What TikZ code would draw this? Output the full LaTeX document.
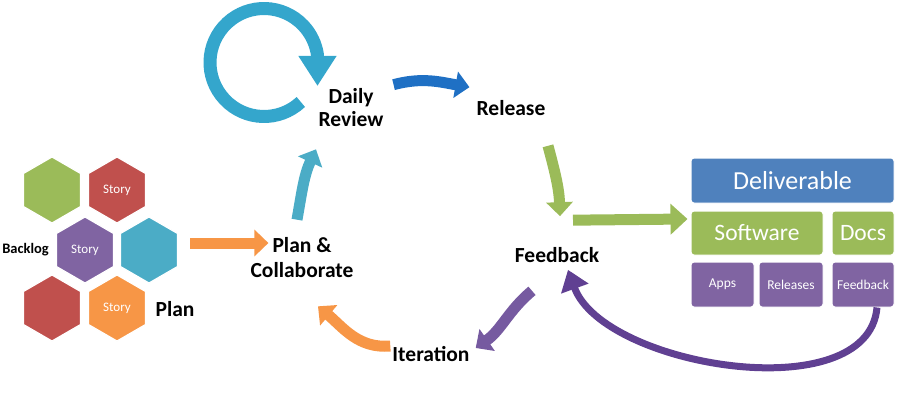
\documentclass[tikz,border=0pt]{standalone}
\usepackage{fontspec}
\setmainfont{Carlito}
\usetikzlibrary{arrows.meta,positioning,shapes.geometric,calc}
\definecolor{hexGreen}{RGB}{155,187,89}
\definecolor{hexRed}{RGB}{192,80,77}
\definecolor{hexPurple}{RGB}{128,100,162}
\definecolor{hexTeal}{RGB}{75,172,198}
\definecolor{hexOrange}{RGB}{247,150,70}
\definecolor{boxBlue}{RGB}{79,129,189}
\definecolor{loopTeal}{RGB}{52,166,204}
\definecolor{arrBlue}{RGB}{31,112,196}
\definecolor{arrPurple}{RGB}{118,90,160}
\definecolor{darkPurple}{RGB}{96,64,146}
\tikzset{
  hexnode/.style={regular polygon, regular polygon sides=6, shape border rotate=30,
    minimum size=66pt, inner sep=0pt, draw=white, line width=1.2pt, fill=#1,
    text=white, font=\fontsize{13}{15}\selectfont},
  steplabel/.style={font=\bfseries\fontsize{21.5}{23}\selectfont, align=center, inner sep=0pt},
  delbox/.style={rounded corners=3pt, fill=#1, draw=white, line width=1pt,
    text=white, inner sep=0pt},
  fatarrow/.style={draw=#1, line width=11pt, -{Triangle[width=26pt,length=14pt]}},
}

\begin{document}
\begin{tikzpicture}[x=1pt,y=1pt]
    \useasboundingbox (0,0) rectangle (900,400);
    % Backlog: hexagons
    \node[hexnode=hexGreen] (hexA) at (52,210) {};
    \node[hexnode=hexRed] (storyA) at (117,210) {Story};
    \node[hexnode=hexPurple] (storyB) at (85,150) {Story};
    \node[hexnode=hexTeal] (hexB) at (149,150) {};
    \node[hexnode=hexRed] (hexC) at (52,92) {};
    \node[hexnode=hexOrange] (storyC) at (117,92) {Story};
    \node[font=\bfseries\fontsize{14.5}{16}\selectfont, anchor=east, inner sep=0pt] (backlog) at (49,150) {Backlog};
    \node[steplabel] (plan) at (175,91) {Plan};
    % Cycle labels
    \node[steplabel] (daily) at (351,292) {Daily\\Review};
    \node[steplabel] (release) at (511,292) {Release};
    \node[steplabel] (feedback) at (557,145) {Feedback};
    \node[steplabel] (iteration) at (431,46) {Iteration};
    \node[steplabel, font=\bfseries\fontsize{21.5}{25}\selectfont] (plancol) at (302,142) {Plan \&\\Collaborate};
    % Deliverable blocks
    \node[delbox=boxBlue, minimum width=203pt, minimum height=45pt, font=\fontsize{26}{28}\selectfont] (deliv) at (792.5,219.5) {Deliverable};
    \node[delbox=hexGreen, minimum width=132pt, minimum height=44pt, font=\fontsize{23.5}{25}\selectfont] (software) at (757,167) {Software};
    \node[delbox=hexGreen, minimum width=62pt, minimum height=44pt, font=\fontsize{23.5}{25}\selectfont] (docs) at (863,167) {Docs};
    \node[delbox=hexPurple, minimum width=63pt, minimum height=45pt, font=\fontsize{13.5}{15}\selectfont] (apps) at (722.5,115.5) {Apps};
    \node[delbox=hexPurple, minimum width=64pt, minimum height=45pt, font=\fontsize{13.5}{15}\selectfont] (releases) at (791,115.5) {Releases};
    \node[delbox=hexPurple, minimum width=62pt, minimum height=45pt, font=\fontsize{13.5}{15}\selectfont] (fbbox) at (863,115.5) {Feedback};
    % Daily loop
    \coordinate (loopc) at (264,337.5);
    \draw[loopTeal, line width=13pt, -{Triangle[width=36pt,length=30pt]}]
      ([shift={(-47:54)}]loopc) arc[start angle=-47, end angle=-352, radius=54] -- ++(0,-31);
    % Cycle arrows
    \draw[fatarrow=hexOrange] ([shift={(12,7)}]hexB.east) -- ([shift={(18,15)}]plancol.west);
    \draw[fatarrow=hexTeal] ([shift={(-5,18)}]plancol.north) to[out=80,in=245] ([shift={(-35,-22)}]daily.south);
    \draw[fatarrow=arrBlue] ([shift={(10,4)}]daily.north east) to[out=15,in=170] ([shift={(-7,13)}]release.north west);
    \draw[fatarrow=hexGreen] ([shift={(37,-30)}]release.south) to[out=-75,in=92] ([shift={(3,31)}]feedback.north);
    \draw[fatarrow=hexGreen, -{Triangle[width=30pt,length=17pt]}] ([shift={(16,27)}]feedback.north) -- ([shift={(-3,14)}]software.west);
    \draw[fatarrow=arrPurple] ([shift={(-25,-28)}]feedback.south) to[out=220,in=35] ([shift={(6,6)}]iteration.east);
    \draw[fatarrow=hexOrange] ([shift={(-2,8)}]iteration.west) to[out=185,in=-40] ([shift={(16,-28)}]plancol.south);
    % Feedback loop back
    \draw[darkPurple, line width=7pt, -{Triangle[width=28pt,length=20pt]}]
      ([xshift=14]fbbox.south) to[out=-95,in=-70,looseness=0.85] ([shift={(11,-7)}]feedback.south);
\end{tikzpicture}
\end{document}
